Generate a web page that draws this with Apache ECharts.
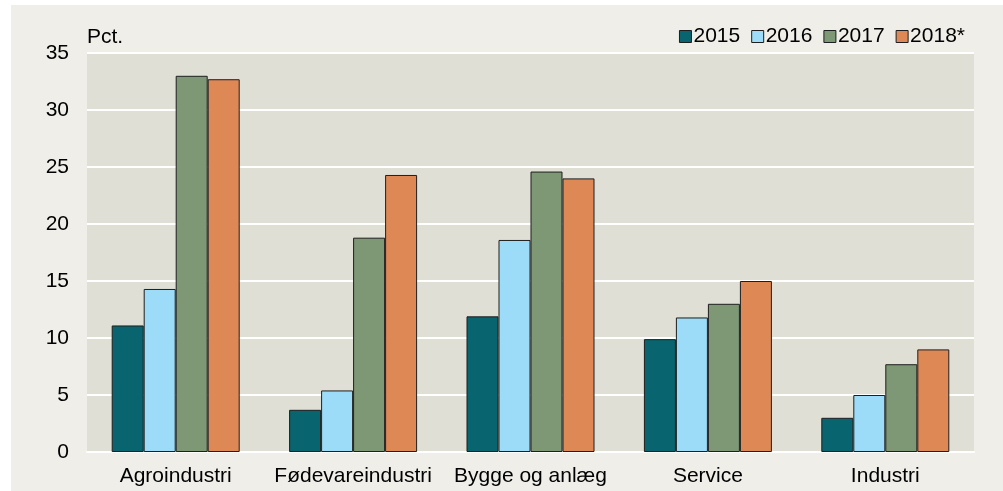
<!DOCTYPE html>
<html>
<head>
<meta charset="utf-8">
<script src="https://cdn.jsdelivr.net/npm/echarts@6/dist/echarts.min.js"></script>
<style>
html,body{margin:0;padding:0;background:#ffffff;}
#chart{width:1003px;height:491px;}
</style>
</head>
<body>
<div id="chart"></div>
<script>
var categories = ['Agroindustri', 'Fødevareindustri', 'Bygge og anlæg', 'Service', 'Industri'];
var seriesNames = ['2015', '2016', '2017', '2018*'];
var v2015 = [11.1, 3.7, 11.9, 9.9, 3.0];
var v2016 = [14.3, 5.4, 18.6, 11.8, 5.0];
var v2017 = [33.0, 18.8, 24.6, 13.0, 7.7];
var v2018 = [32.7, 24.3, 24.0, 15.0, 9.0];
var yTicks = [0, 5, 10, 15, 20, 25, 30, 35];
var unitLabel = 'Pct.';

var colors = ['#08646f', '#9ddcf8', '#7e9876', '#de8855'];
var values = [v2015, v2016, v2017, v2018];
var font = 'Arial, "Liberation Sans", sans-serif';

var chart = echarts.init(document.getElementById('chart'), null, {renderer: 'canvas'});
var series = seriesNames.map(function (n, i) {
  return {
    name: n,
    type: 'bar',
    data: values[i],
    barWidth: 32,
    barGap: '0%',
    itemStyle: {color: colors[i], borderColor: '#1e1e1e', borderWidth: 1},
    emphasis: {disabled: true}
  };
});

chart.setOption({
  animation: false,
  backgroundColor: 'transparent',
  graphic: [
    {type: 'rect', z: -10, shape: {x: 11, y: 5, width: 992, height: 486}, style: {fill: '#efeee8'}},
    {type: 'rect', z: -9, shape: {x: 87, y: 53, width: 887, height: 399}, style: {fill: '#e0dfd5'}},
    {type: 'text', left: 87, top: 27, style: {text: unitLabel, font: '21px ' + font, fill: '#000'}}
  ],
  legend: {
    data: seriesNames,
    right: 33,
    top: 21,
    itemWidth: 12,
    itemHeight: 12,
    itemGap: 11,
    icon: 'rect',
    itemStyle: {borderColor: '#1e1e1e', borderWidth: 1},
    textStyle: {fontSize: 21, fontFamily: font, color: '#000', padding: [0, 0, 0, -3]}
  },
  grid: {left: 87, right: 29, top: 53, bottom: 39, containLabel: false},
  xAxis: {
    type: 'category',
    data: categories,
    axisLine: {show: true, lineStyle: {color: '#ffffff', width: 2}},
    axisTick: {show: false},
    axisLabel: {fontSize: 21, fontFamily: font, color: '#000', margin: 14, interval: 0}
  },
  yAxis: {
    type: 'value',
    min: yTicks[0],
    max: yTicks[yTicks.length - 1],
    interval: 5,
    axisLine: {show: false},
    axisTick: {show: false},
    splitLine: {lineStyle: {color: '#ffffff', width: 2}},
    axisLabel: {fontSize: 21, fontFamily: font, color: '#000', margin: 18}
  },
  series: series
});
</script>
</body>
</html>
